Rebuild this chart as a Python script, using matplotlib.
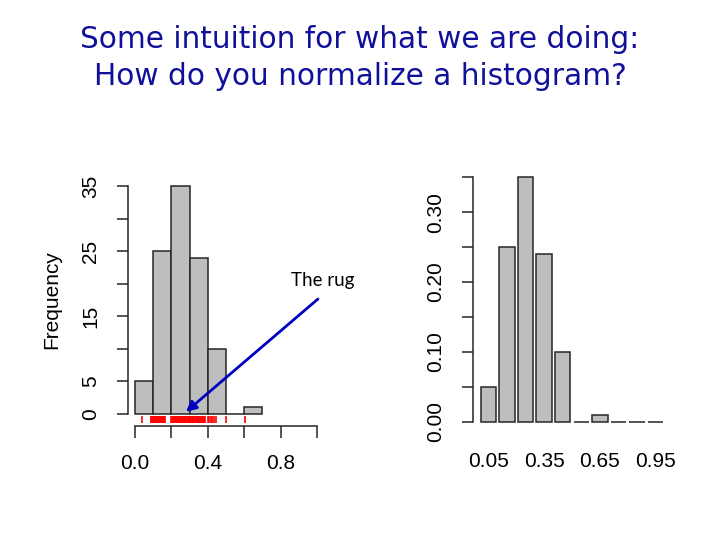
import matplotlib
matplotlib.use("Agg")
import matplotlib.pyplot as plt
from matplotlib.transforms import blended_transform_factory

# ---------------- data ----------------
bin_edges = [0.0, 0.1, 0.2, 0.3, 0.4, 0.5, 0.6, 0.7]
counts = [5, 25, 35, 24, 10, 0, 1]
rug_values = [0.037, 0.086, 0.089, 0.092, 0.095, 0.098, 0.101, 0.104, 0.110, 0.113,
              0.116, 0.122, 0.125, 0.128, 0.134, 0.137, 0.140, 0.143, 0.146, 0.152,
              0.155, 0.158, 0.161, 0.164, 0.198, 0.204, 0.209, 0.213, 0.218, 0.222,
              0.227, 0.231, 0.236, 0.240, 0.245, 0.249, 0.254, 0.258, 0.263, 0.267,
              0.272, 0.276, 0.281, 0.285, 0.290, 0.294, 0.299, 0.303, 0.308, 0.312,
              0.317, 0.321, 0.326, 0.330, 0.335, 0.339, 0.344, 0.348, 0.353, 0.357,
              0.362, 0.366, 0.371, 0.375, 0.380, 0.384, 0.402, 0.408, 0.418, 0.425,
              0.436, 0.447, 0.498, 0.604]
left_yticks = [0, 5, 10, 15, 20, 25, 30, 35]
left_ylabels = ["0", "5", "", "15", "", "25", "", "35"]
left_xticks = [0.0, 0.2, 0.4, 0.6, 0.8, 1.0]
left_xlabels = ["0.0", "", "0.4", "", "0.8", ""]

right_names = ["0.05", "0.15", "0.25", "0.35", "0.45", "0.55", "0.65", "0.75", "0.85", "0.95"]
right_values = [0.05, 0.25, 0.35, 0.24, 0.10, 0.0, 0.01, 0.0, 0.0, 0.0]
right_yticks = [0.0, 0.05, 0.10, 0.15, 0.20, 0.25, 0.30, 0.35]
right_ylabels = ["0.00", "", "0.10", "", "0.20", "", "0.30", ""]

title_lines = ["Some intuition for what we are doing:", "How do you normalize a histogram?"]

# ---------------- figure ----------------
W, H = 720, 540
fig = plt.figure(figsize=(7.2, 5.4), dpi=100)
plt.rcParams['font.family'] = ['Liberation Sans', 'DejaVu Sans']

def ax_rect(x0, x1, ytop, ybot):
    return [x0 / W, 1 - ybot / H, (x1 - x0) / W, (ybot - ytop) / H]

bar_face = "#BEBEBE"
edge = "#262626"
tick_fs = 15

# ---------- left histogram ----------
axL = fig.add_axes(ax_rect(127.7, 324.3, 177, 423))
widths = [bin_edges[i + 1] - bin_edges[i] for i in range(len(counts))]
axL.bar(bin_edges[:-1], counts, width=widths, align="edge",
        color=bar_face, edgecolor=edge, linewidth=1.1)
axL.set_xlim(-0.04, 1.04)
axL.set_ylim(-1.4, 36.4)
trans = blended_transform_factory(axL.transData, axL.transAxes)
axL.vlines(rug_values, 0.0, 0.028, transform=trans, color="red", linewidth=1.2)
for s in ["top", "right"]:
    axL.spines[s].set_visible(False)
axL.spines["left"].set_bounds(0, 35)
axL.spines["bottom"].set_bounds(0, 1.0)
axL.spines["bottom"].set_position(("outward", 2))
for s in ["left", "bottom"]:
    axL.spines[s].set_color(edge)
    axL.spines[s].set_linewidth(1.1)
axL.set_yticks(left_yticks)
axL.set_yticklabels(left_ylabels, rotation=90, va="center")
axL.set_xticks(left_xticks)
axL.set_xticklabels(left_xlabels)
axL.tick_params(axis="y", length=8, width=1.1, color=edge, labelsize=tick_fs, pad=12)
axL.tick_params(axis="x", length=8.5, width=1.1, color=edge, labelsize=tick_fs, pad=12)
axL.set_ylabel("Frequency", fontsize=tick_fs, labelpad=14)
axL.patch.set_alpha(0)

# arrow and label "The rug"
axL.annotate("", xy=(0.28, 0.31), xytext=(1.005, 17.65),
             arrowprops=dict(arrowstyle="-|>", color="#0000C0", lw=2.0,
                             mutation_scale=15, shrinkA=0, shrinkB=0),
             annotation_clip=False)
axL.text(1.033, 19.65, "The rug", fontsize=13.5, family=["Lato", "DejaVu Sans"],
         ha="center", va="baseline", color="black")

# ---------- right barplot ----------
axR = fig.add_axes(ax_rect(473.4, 670.6, 167.5, 431.5))
centers = [0.7 + 1.2 * i for i in range(len(right_values))]
axR.bar(centers, right_values, width=1.0, color=bar_face, edgecolor=edge, linewidth=1.1)
axR.set_xlim(-0.272, 12.472)
axR.set_ylim(-0.014, 0.364)
for s in ["top", "right", "bottom"]:
    axR.spines[s].set_visible(False)
axR.spines["left"].set_bounds(0, 0.35)
axR.spines["left"].set_color(edge)
axR.spines["left"].set_linewidth(1.1)
axR.set_yticks(right_yticks)
axR.set_yticklabels(right_ylabels, rotation=90, va="center")
axR.set_xticks(centers)
axR.set_xticklabels([n if i % 3 == 0 else "" for i, n in enumerate(right_names)])
axR.tick_params(axis="y", length=8, width=1.1, color=edge, labelsize=tick_fs, pad=12)
axR.tick_params(axis="x", length=0, labelsize=tick_fs, pad=15)
axR.patch.set_alpha(0)

# ---------- title ----------
fig.text(0.5, 1 - 48 / H, title_lines[0], ha="center", va="baseline",
         fontsize=21.3, color="#10109A", family=["DejaVu Sans"])
fig.text(0.5, 1 - 85 / H, title_lines[1], ha="center", va="baseline",
         fontsize=21.3, color="#10109A", family=["DejaVu Sans"])

fig.savefig("out.png", dpi=100)
